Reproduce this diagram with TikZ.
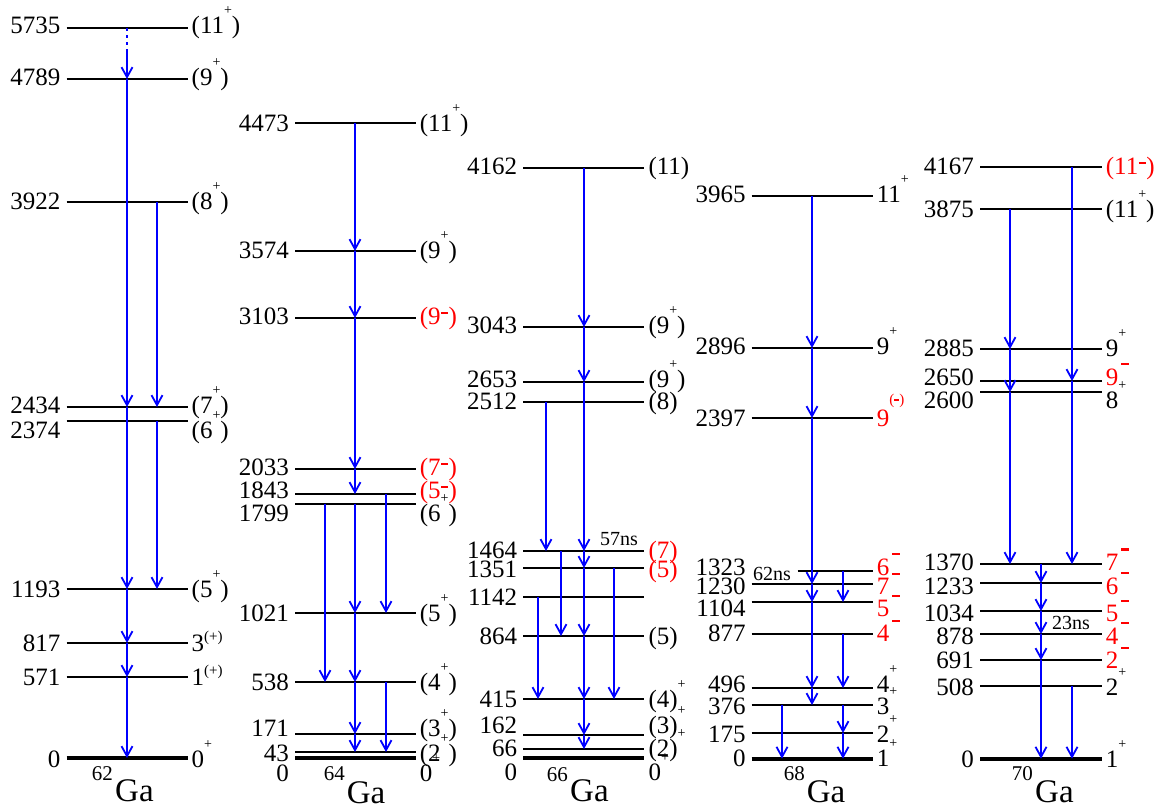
\documentclass[tikz,border=0pt]{standalone}
\usepackage{fontspec}
\setmainfont{Liberation Serif}[Ligatures=TeX]
\newfontfamily\tnr{Liberation Serif}
\usetikzlibrary{arrows.meta}
\definecolor{gblue}{RGB}{0,0,255}
\definecolor{gred}{RGB}{255,0,0}
% superscripts
\newcommand\supP{\raisebox{19pt}{\fontsize{14}{14}\selectfont +}}
\newcommand\supPp{\raisebox{10pt}{\fontsize{15}{15}\selectfont(+)}}
\newcommand\supMpar{\kern0.5pt\raisebox{10.5pt}{\rule{7pt}{2.4pt}}\kern0.5pt}
\newcommand\supMh{\kern3pt\raisebox{20pt}{\rule{7.5pt}{2.4pt}}}
\newcommand\supMb{\raisebox{22pt}{\fontsize{15}{15}\selectfont(\raisebox{3pt}{\rule{5pt}{2.2pt}})}}
\newcommand\rd[1]{{\color{gred}#1}}
\tikzset{
  level/.style={line width=2pt},
  gs/.style={line width=4.2pt},
  mid/.style={line width=2.8pt},
  elab/.style={anchor=base east, inner sep=0pt, font=\tnr\fontsize{25}{25}\selectfont},
  slab/.style={anchor=base west, inner sep=0pt, font=\tnr\fontsize{25}{25}\selectfont},
  gam/.style={draw=gblue, line width=1.8pt, -{Straight Barb[length=10pt,width=11pt,line width=1.8pt]}},
  gline/.style={draw=gblue, line width=1.8pt},
  tlab/.style={anchor=base west, inner sep=0pt, font=\tnr\fontsize{20}{20}\selectfont},
  nucA/.style={anchor=base east, inner sep=0pt, font=\tnr\fontsize{21}{21}\selectfont},
  nucB/.style={anchor=base west, inner sep=0pt, font=\tnr\fontsize{33}{33}\selectfont}
}
% #1 name, #2 line y, #3 text centre y, #4 energy, #5 spin, #6 extra line style
\newcommand\lev[6]{%
  \coordinate (#1) at (\xl,#2);
  \coordinate (#1r) at (\xr,#2);
  \draw[level,#6] (#1) -- (#1r);
  \node[elab] (#1E) at (\xl-6,#3+8.4) {#4};
  \node[slab] (#1S) at (\xr+4,#3+8.4) {#5};
}
\newcommand\gm[3]{\draw[gam] (#1,0 |- #2) -- (#1,0 |- #3);}
\begin{document}
\begin{tikzpicture}[x=1pt,y=-1pt]
\useasboundingbox (0,0) rectangle (1171,807);
% ---------------- 62Ga
\def\xl{66.5}\def\xr{187.5}
\lev{aA}{28}{25}{5735}{(11\supP)}{}
\lev{aB}{79}{77.5}{4789}{(9\supP)}{}
\lev{aC}{202}{201}{3922}{(8\supP)}{}
\lev{aD}{407}{405.5}{2434}{(7\supP)}{}
\lev{aE}{421}{430}{2374}{(6\supP)}{}
\lev{aF}{589}{589}{1193}{(5\supP)}{}
\lev{aG}{643}{643}{817}{3\supPp}{}
\lev{aH}{677}{677}{571}{1\supPp}{}
\lev{aI}{758}{759}{0}{0\supP}{gs}
\coordinate (abrk) at (127,50);
\draw[gline, dash pattern=on 3pt off 4pt] (127,0 |- aA) -- (abrk);
\gm{127}{abrk}{aB}
\gm{127}{aB}{aD}
\gm{127}{aD}{aF}
\gm{127}{aF}{aG}
\gm{127}{aG}{aH}
\gm{127}{aH}{aI}
\gm{157}{aC}{aD}
\gm{157}{aE}{aF}
\node[nucA] (n62) at (113,780) {62};
\node[nucB] (g62) at (115,801) {Ga};
% ---------------- 64Ga
\def\xl{295}\def\xr{415.7}
\lev{bA}{123}{123}{4473}{(11\supP)}{}
\lev{bB}{251}{250}{3574}{(9\supP)}{}
\lev{bC}{318}{316.5}{3103}{\rd{(9\supMpar)}}{}
\lev{bD}{469}{467}{2033}{\rd{(7\supMpar)}}{}
\lev{bE}{494}{490.5}{1843}{\rd{(5\supMpar)}}{}
\lev{bF}{503.5}{513}{1799}{(6\supP)}{}
\lev{bG}{613}{613}{1021}{(5\supP)}{}
\lev{bH}{682}{682}{538}{(4\supP)}{}
\lev{bI}{734}{728.5}{171}{(3\supP)}{}
\lev{bJ}{752}{753}{43}{(2\supP)}{}
\lev{bK}{757.7}{773.5}{0}{0\supP}{gs}
\gm{355}{bA}{bB}
\gm{355}{bB}{bC}
\gm{355}{bC}{bD}
\gm{355}{bD}{bE}
\gm{355}{bF}{bG}
\gm{355}{bG}{bH}
\gm{355}{bH}{bI}
\gm{355}{bI}{bJ}
\gm{325}{bF}{bH}
\gm{386}{bE}{bG}
\gm{386}{bH}{bJ}
\node[nucA] (n64) at (345,780) {64};
\node[nucB] (g64) at (346.7,803) {Ga};
% ---------------- 66Ga
\def\xl{523.3}\def\xr{644.3}
\lev{cA}{168}{166}{4162}{(11)}{}
\lev{cB}{327}{325}{3043}{(9\supP)}{}
\lev{cC}{382}{379.5}{2653}{(9\supP)}{}
\lev{cD}{402}{401}{2512}{(8)}{}
\lev{cE}{551}{550}{1464}{\rd{(7)}}{mid}
\lev{cF}{568}{569.5}{1351}{\rd{(5)}}{}
\lev{cG}{597}{597}{1142}{}{}
\lev{cH}{636}{636}{864}{(5)}{}
\lev{cI}{699}{699}{415}{(4)\supP}{}
\lev{cJ}{735}{725}{162}{(3)\supP}{}
\lev{cK}{749}{748.5}{66}{(2)\supP}{}
\lev{cL}{758}{772.5}{0}{0\supP}{gs}
\gm{584}{cA}{cB}
\gm{584}{cB}{cC}
\gm{584}{cC}{cE}
\gm{584}{cE}{cF}
\gm{584}{cF}{cH}
\gm{584}{cH}{cI}
\gm{584}{cI}{cJ}
\gm{584}{cJ}{cK}
\gm{546}{cD}{cE}
\gm{561}{cE}{cH}
\gm{614}{cF}{cI}
\gm{538}{cG}{cI}
\node[tlab] (t57) at (600,545) {57ns};
\node[nucA] (n66) at (568,781) {66};
\node[nucB] (g66) at (570,801) {Ga};
% ---------------- 68Ga
\def\xl{751.7}\def\xr{872.7}
\lev{dA}{196}{194}{3965}{11\supP}{}
\lev{dB}{348}{346}{2896}{9\supP}{}
\lev{dC}{418}{418}{2397}{\rd{9\supMb}}{}
\lev{dD}{571}{567}{1323}{\rd{6\supMh}}{shorten <=46pt}
\lev{dE}{584}{586.5}{1230}{\rd{7\supMh}}{mid}
\lev{dF}{602}{608.5}{1104}{\rd{5\supMh}}{}
\lev{dG}{634}{633.5}{877}{\rd{4\supMh}}{}
\lev{dH}{688}{684.3}{496}{4\supP}{}
\lev{dI}{705}{706.5}{376}{3\supP}{}
\lev{dJ}{733}{734}{175}{2\supP}{}
\lev{dK}{758.7}{758.5}{0}{1\supP}{gs}
\gm{812}{dA}{dB}
\gm{812}{dB}{dC}
\gm{812}{dC}{dE}
\gm{812}{dE}{dF}
\gm{812}{dF}{dH}
\gm{812}{dH}{dI}
\gm{843}{dD}{dF}
\gm{843}{dG}{dH}
\gm{843}{dI}{dJ}
\gm{843}{dJ}{dK}
\gm{782}{dI}{dK}
\node[tlab] (t62) at (753,580) {62ns};
\node[nucA] (n68) at (805,780) {68};
\node[nucB] (g68) at (806.7,802) {Ga};
% ---------------- 70Ga
\def\xl{980}\def\xr{1101.7}
\lev{eA}{167}{166}{4167}{\rd{(11\supMpar)}}{}
\lev{eB}{209}{209}{3875}{(11\supP)}{}
\lev{eC}{349}{348}{2885}{9\supP}{}
\lev{eD}{381}{377}{2650}{\rd{9\supMh}}{}
\lev{eE}{392}{400}{2600}{8\supP}{}
\lev{eF}{564}{562.3}{1370}{\rd{7\supMh}}{}
\lev{eG}{583}{586}{1233}{\rd{6\supMh}}{}
\lev{eH}{611}{613.5}{1034}{\rd{5\supMh}}{}
\lev{eI}{634}{635.7}{878}{\rd{4\supMh}}{mid}
\lev{eJ}{660}{660.5}{691}{\rd{2\supMh}}{}
\lev{eK}{686}{687}{508}{2\supP}{}
\lev{eL}{758.7}{759}{0}{1\supP}{gs}
\gm{1010}{eB}{eC}
\gm{1010}{eC}{eE}
\gm{1010}{eE}{eF}
\gm{1072}{eA}{eD}
\gm{1072}{eD}{eF}
\gm{1072}{eK}{eL}
\gm{1041}{eF}{eG}
\gm{1041}{eG}{eH}
\gm{1041}{eH}{eI}
\gm{1041}{eI}{eJ}
\gm{1041}{eJ}{eL}
\node[tlab] (t23) at (1052,629.5) {23ns};
\node[nucA] (n70) at (1033,780) {70};
\node[nucB] (g70) at (1035,802) {Ga};
\end{tikzpicture}
\end{document}
